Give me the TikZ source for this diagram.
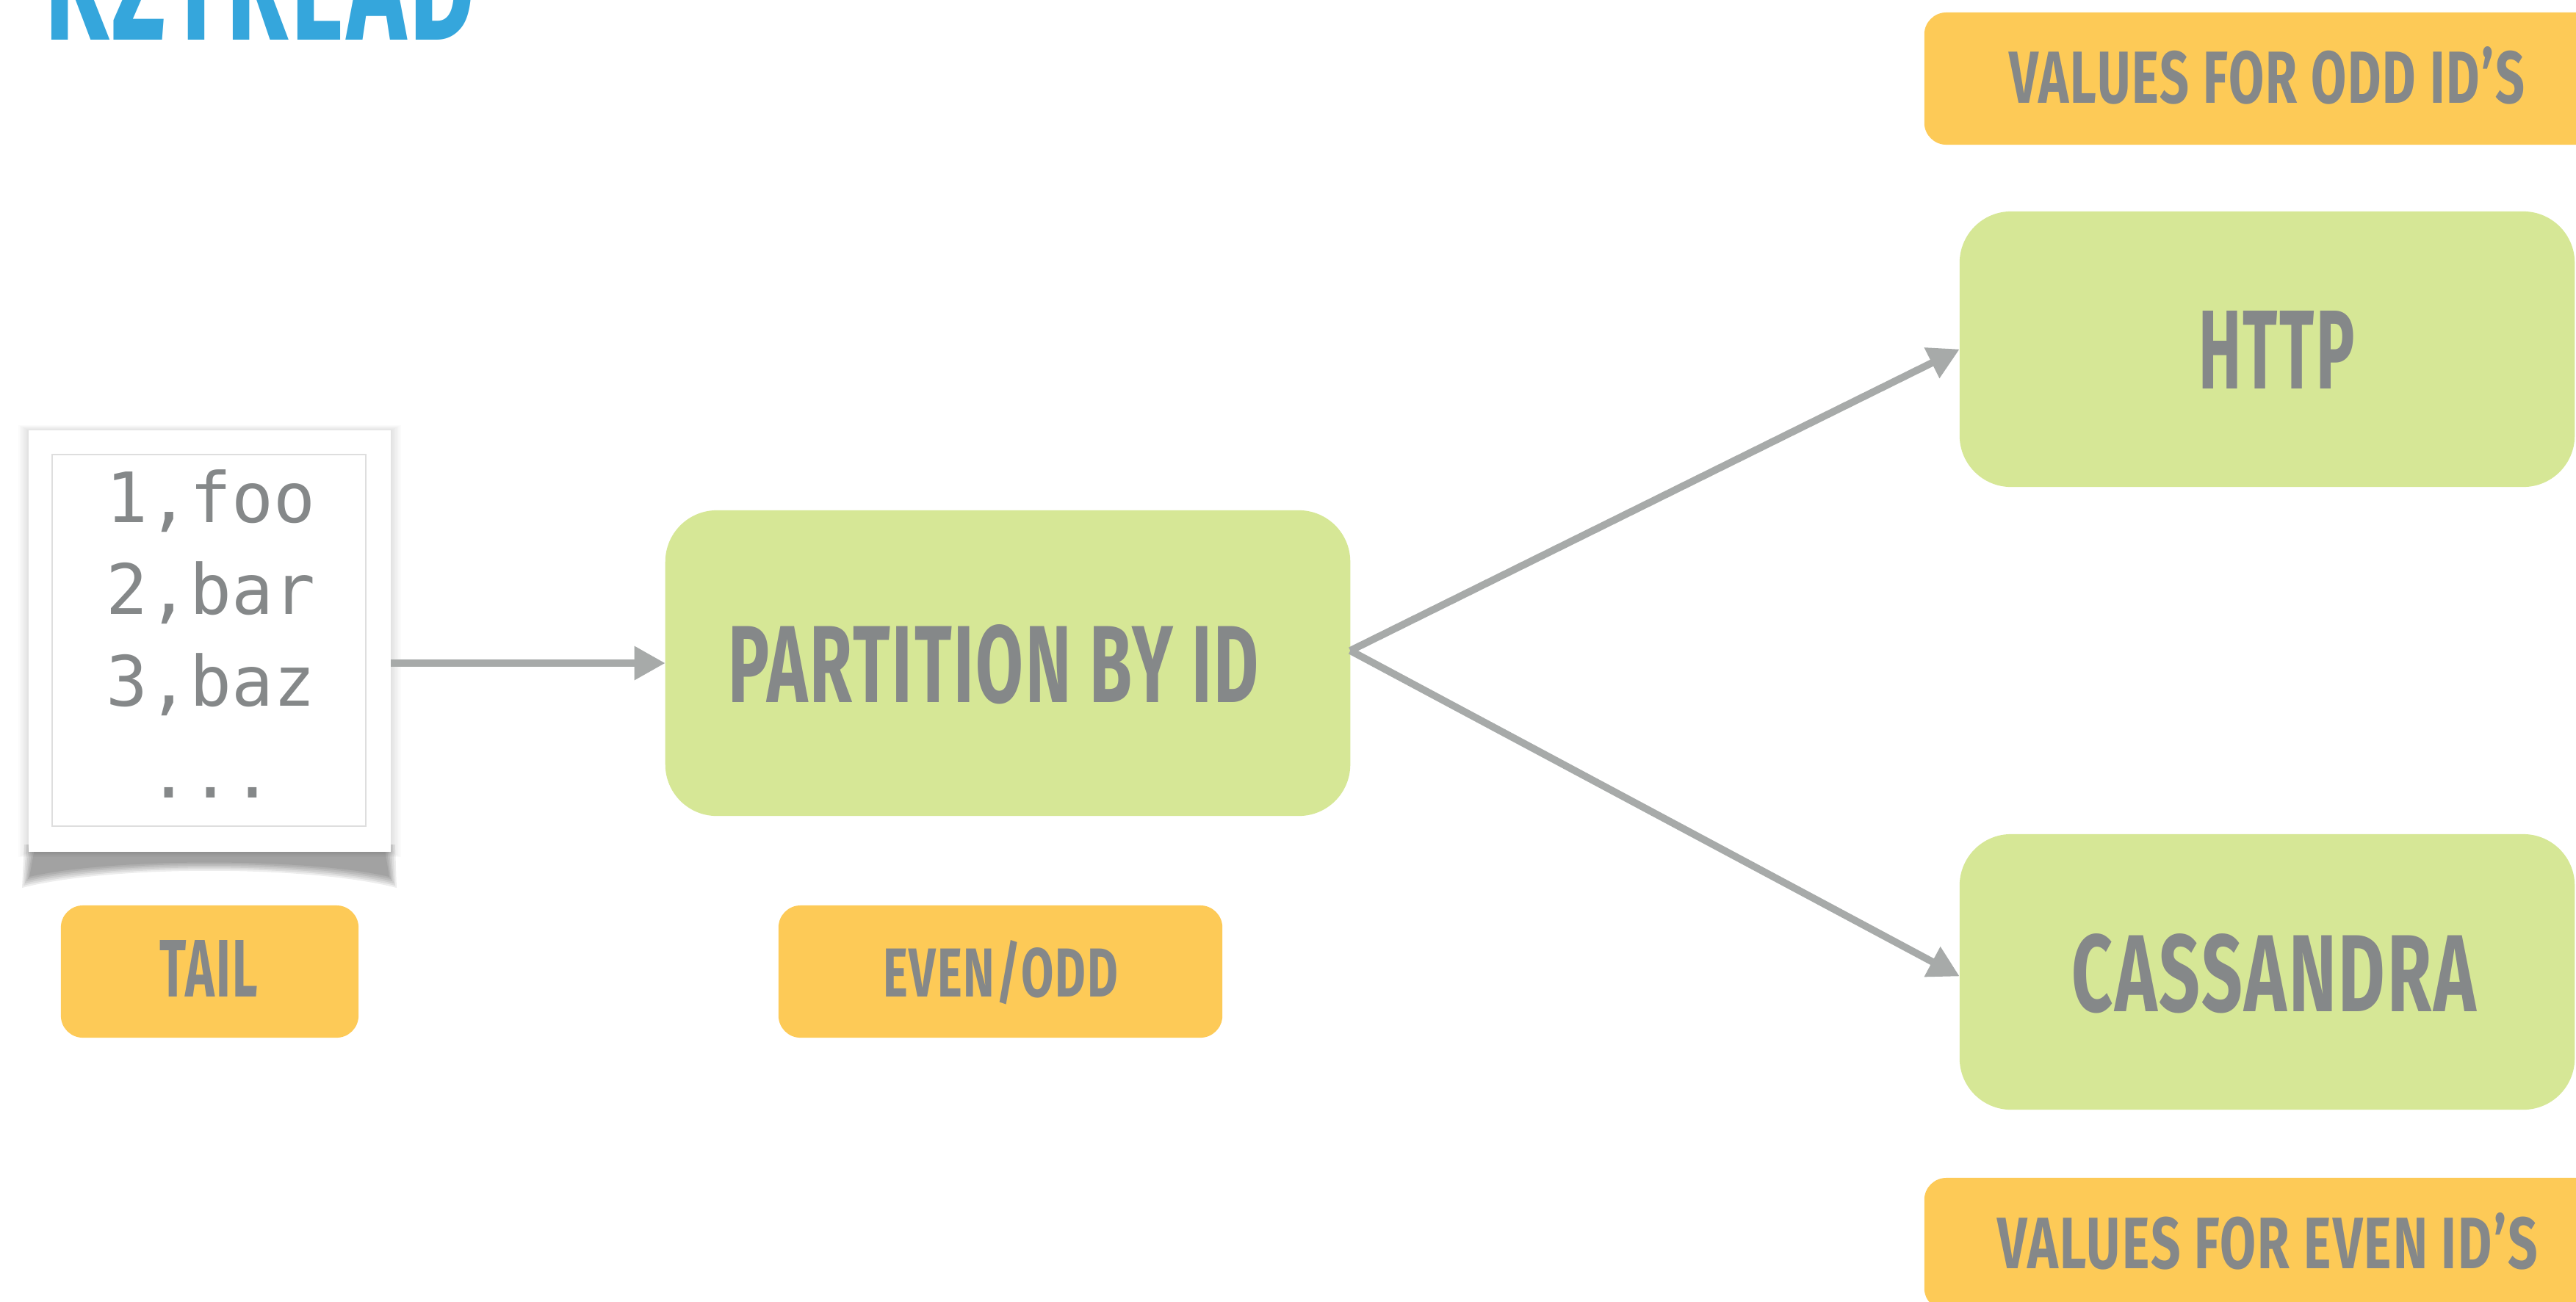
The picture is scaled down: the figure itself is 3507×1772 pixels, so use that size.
\documentclass[tikz,border=0pt]{standalone}
\usepackage{fontspec}
\usepackage{graphicx}
\usetikzlibrary{arrows.meta,calc}
\newfontfamily\dinfont{Fira Sans}[LetterSpace=3]
\newfontfamily\codefont{DejaVu Sans Mono}
\newlength\px
\setlength\px{0.01cm}
\definecolor{boxgreen}{RGB}{214,231,150}
\definecolor{tagorange}{RGB}{253,202,87}
\definecolor{txtgray}{RGB}{133,136,137}
\definecolor{arrgray}{RGB}{167,170,169}
\definecolor{titleblue}{RGB}{53,166,220}
\definecolor{framegray}{RGB}{222,222,222}
\newcommand{\dinlbl}[3]{\resizebox{#1\px}{#2\px}{\dinfont\bfseries #3}}
\tikzset{
  greenbox/.style={fill=boxgreen, rounded corners=0.7cm, inner sep=0pt, outer sep=0pt},
  tagbox/.style={fill=tagorange, rounded corners=0.3cm, inner sep=0pt, outer sep=0pt},
  lbl/.style={text=txtgray, inner sep=0pt, anchor=base},
  codeline/.style={text=txtgray, inner sep=0pt, anchor=base, font=\codefont\fontsize{26.9}{35.6}\selectfont},
  arr/.style={draw=arrgray, line width=2.8pt, -{Triangle[length=12pt,width=12.5pt]}},
}
\begin{document}
\begin{tikzpicture}[x=0.01cm,y=-0.01cm]
\useasboundingbox (0,0) rectangle (3507,1772);
\clip (0,0) rectangle (3507,1772);
\fill[white] (0,0) rectangle (3507,1772);

% title (cut off at top)
\node[text=titleblue, inner sep=0pt, anchor=base west] (title) at (61,54) {\dinlbl{585}{150}{KZTREAD}};

% file with soft and curved shadow
\foreach \k in {1,...,7}
  \fill[black, opacity=0.015] (39-\k*2,586-\k*1) rectangle (532+\k*2,1160+\k*1);
\foreach \k in {0,...,5}
  \fill[black, opacity=0.07] (48-\k*3,1150) -- (523+\k*3,1150) -- (530+\k*2,1194+\k*3)
    .. controls (420,1168+\k*2) and (150,1168+\k*2) .. (40-\k*2,1194+\k*3) -- cycle;
\node[fill=white, inner sep=0pt, outer sep=0pt, minimum width=4.93cm, minimum height=5.74cm] (file) at (285.5,873) {};
\draw[framegray, line width=0.6pt] (71,619) rectangle (498,1125);
\node[codeline] (l1) at (287,711) {1,foo};
\node[codeline] (l2) at (287,836) {2,bar};
\node[codeline] (l3) at (287,961) {3,baz};
\node[codeline] (l4) at (287,1086) {...};

% process boxes
\node[greenbox, minimum width=9.32cm, minimum height=4.16cm] (part) at (1372,903) {};
\node[lbl] (partlbl) at (1352.5,956) {\dinlbl{723}{106}{PARTITION BY ID}};

\node[greenbox, minimum width=8.37cm, minimum height=3.75cm] (http) at (3086.5,475.5) {};
\node[lbl] (httplbl) at (3099.5,529) {\dinlbl{213}{106}{HTTP}};

\node[greenbox, minimum width=8.37cm, minimum height=3.75cm] (cass) at (3086.5,1323.5) {};
\node[lbl] (casslbl) at (3095.5,1377) {\dinlbl{551}{106}{CASSANDRA}};

% tags
\node[tagbox, minimum width=4.05cm, minimum height=1.8cm] (tail) at (285.5,1323) {};
\node[lbl] (taillbl) at (284.5,1357) {\dinlbl{133}{77}{TAIL}};

\node[tagbox, minimum width=6.04cm, minimum height=1.8cm] (evenodd) at (1362,1323) {};
\node[lbl] (evenoddlbl) at (1362,1357) {\dinlbl{320}{77}{EVEN/ODD}};

\node[tagbox, minimum width=9.6cm, minimum height=1.8cm] (odd) at (3100,107) {};
\node[lbl] (oddlbl) at (3086,140) {\dinlbl{702}{77}{VALUES FOR ODD ID’S}};

\node[tagbox, minimum width=9.6cm, minimum height=1.8cm] (even) at (3100,1694) {};
\node[lbl] (evenlbl) at (3087,1727) {\dinlbl{736}{76}{VALUES FOR EVEN ID’S}};

% connectors
\coordinate (tailout) at ($(file.east)+(0,30)$);
\coordinate (split) at ($(part.east)+(0,-17)$);
\coordinate (cassin) at ($(cass.west)+(0,6)$);
\draw[arr] (tailout) -- (part.west);
\draw[arr] (split) -- (http.west);
\draw[arr] (split) -- (cassin);
\end{tikzpicture}
\end{document}
